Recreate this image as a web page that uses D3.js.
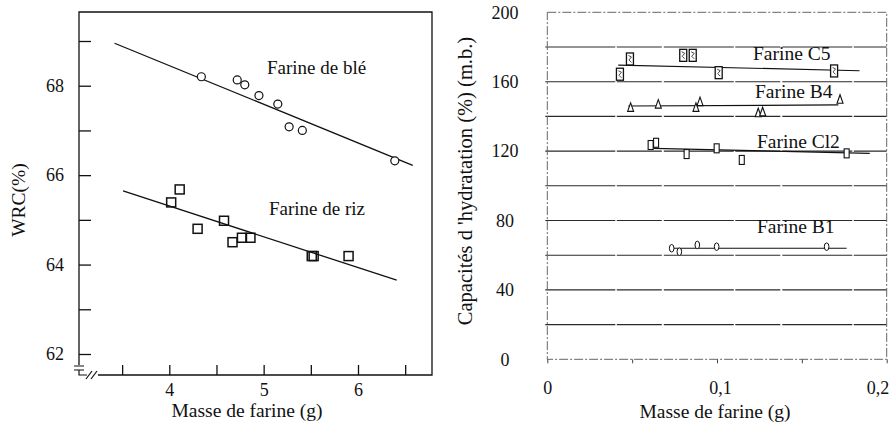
<!DOCTYPE html>
<html>
<head>
<meta charset="utf-8">
<script src="https://cdn.jsdelivr.net/npm/d3@7"></script>
<style>
  body { margin: 0; background: #fff; }
  svg text { font-family: "Liberation Serif", "DejaVu Serif", serif !important; fill: #111; }
</style>
</head>
<body>
<div id="chart"></div>
<script>
// ---- left panel data: WRC vs masse de farine
const wheatMass = [4.34, 4.72, 4.80, 4.95, 5.15, 5.27, 5.41, 6.39];
const wheatWRC  = [68.20, 68.13, 68.02, 67.78, 67.59, 67.08, 67.00, 66.32];
const wheatFit  = [[3.42, 68.95], [6.58, 66.22]];

const riceMass = [4.11, 4.02, 4.58, 4.30, 4.67, 4.77, 4.86, 5.51, 5.53, 5.90];
const riceWRC  = [65.68, 65.39, 64.98, 64.80, 64.50, 64.60, 64.60, 64.19, 64.19, 64.19];
const riceFit  = [[3.51, 65.65], [6.41, 63.65]];

const leftYTicks = [62, 63, 64, 65, 66, 67, 68, 69];
const leftXTicks = [3.5, 4, 4.5, 5, 5.5, 6, 6.5];

// ---- right panel data: capacités d'hydratation
const c5Mass = [0.0487, 0.0801, 0.0857, 0.0428, 0.101, 0.169];
const c5Cap  = [173.1, 175.2, 175.2, 164.3, 165.2, 166.2];
const c5Fit  = [[0.0418, 169.6], [0.184, 166.3]];

const b4Mass = [0.0491, 0.0654, 0.0876, 0.0900, 0.1243, 0.1269, 0.1725];
const b4Cap  = [145.2, 147.1, 145.2, 148.5, 142.1, 142.7, 149.9];
const b4Fit  = [[0.0477, 146.0], [0.1715, 146.6]];

const cl2Mass = [0.0609, 0.0641, 0.0821, 0.0998, 0.1146, 0.1764];
const cl2Cap  = [123.5, 124.8, 118.3, 121.6, 114.9, 118.7];
const cl2Fit  = [[0.0625, 121.6], [0.190, 118.7]];

const b1Mass = [0.0733, 0.0778, 0.0884, 0.0998, 0.1646];
const b1Cap  = [64.0, 62.0, 65.9, 64.9, 64.9];
const b1Fit  = [[0.0723, 64.0], [0.1764, 64.0]];

const rightYTicks = [0, 20, 40, 60, 80, 100, 120, 140, 160, 180, 200];
const rightYLabels = [0, 40, 80, 120, 160, 200];
const rightXTicks = [0, 0.05, 0.1, 0.15, 0.2];
const rightXLabels = [0, 0.1, 0.2];

const W = 893, H = 434;
const FONT = '"Liberation Serif", "DejaVu Serif", serif';
const svg = d3.select("#chart").append("svg")
  .attr("width", W).attr("height", H)
  .attr("font-family", FONT);

const zip = (a, b) => a.map((v, i) => [v, b[i]]);

// ================= left panel =================
const L = {left: 79, right: 432, top: 12, bottom: 375};
const xL = d3.scaleLinear().domain([4, 6]).range([169.3, 358]);
const yL = d3.scaleLinear().domain([62, 69]).range([354, 41]);

const gl = svg.append("g");

// frame (top, right and left sides)
gl.append("path")
  .attr("d", `M${L.left},365 V${L.top} H${L.right} V${L.bottom} H98`)
  .attr("fill", "none").attr("stroke", "#111").attr("stroke-width", 1.3);
// axis break marks
gl.append("path")
  .attr("d", `M74,366 H84 M74,370 H84 M${L.left},370 V375 H87 M86,379 L92,371 M91,379 L97,371`)
  .attr("fill", "none").attr("stroke", "#111").attr("stroke-width", 1.2);

const yAxisL = d3.axisLeft(yL).tickValues(leftYTicks)
  .tickSizeInner(-12).tickSizeOuter(0).tickPadding(15)
  .tickFormat(d => d % 2 === 0 ? d : "");
gl.append("g").attr("transform", `translate(${L.left},0)`).call(yAxisL)
  .attr("font-family", FONT)
  .call(g => g.select(".domain").remove())
  .call(g => g.selectAll("line").attr("stroke", "#111").attr("stroke-width", 1.3))
  .call(g => g.selectAll("text").style("font-size", "18px").attr("fill", "#111"));

const xAxisL = d3.axisBottom(xL).tickValues(leftXTicks)
  .tickSizeInner(-10).tickSizeOuter(0).tickPadding(8)
  .tickFormat(d => Number.isInteger(d) ? d : "");
gl.append("g").attr("transform", `translate(0,${L.bottom})`).call(xAxisL)
  .attr("font-family", FONT)
  .call(g => g.select(".domain").remove())
  .call(g => g.selectAll("line").attr("stroke", "#111").attr("stroke-width", 1.3))
  .call(g => g.selectAll("text").style("font-size", "18px").attr("fill", "#111"));

const lineL = d3.line().x(d => xL(d[0])).y(d => yL(d[1]));
[wheatFit, riceFit].forEach(f => gl.append("path").attr("d", lineL(f))
  .attr("fill", "none").attr("stroke", "#111").attr("stroke-width", 1.3));

gl.selectAll("circle.wheat").data(zip(wheatMass, wheatWRC)).enter().append("circle")
  .attr("class", "wheat")
  .attr("cx", d => xL(d[0])).attr("cy", d => yL(d[1])).attr("r", 4)
  .attr("fill", "#fff").attr("stroke", "#111").attr("stroke-width", 1.2);

gl.selectAll("rect.rice").data(zip(riceMass, riceWRC)).enter().append("rect")
  .attr("class", "rice")
  .attr("x", d => xL(d[0]) - 4.5).attr("y", d => yL(d[1]) - 4.5)
  .attr("width", 9).attr("height", 9)
  .attr("fill", "none").attr("stroke", "#111").attr("stroke-width", 1.5);

gl.append("text").attr("x", 267).attr("y", 74).style("font-size", "19px").text("Farine de blé");
gl.append("text").attr("x", 269).attr("y", 215).style("font-size", "19px").text("Farine de riz");
gl.append("text").attr("x", 247).attr("y", 417).attr("text-anchor", "middle")
  .style("font-size", "19.5px").text("Masse de farine (g)");
gl.append("text").attr("transform", "translate(25,200) rotate(-90)")
  .attr("text-anchor", "middle").style("font-size", "19.5px").text("WRC(%)");

// ================= right panel =================
const R = {left: 547.3, right: 886.7, top: 12.3, bottom: 359.3};
const xR = d3.scaleLinear().domain([0, 0.2]).range([R.left, R.right]);
const yR = d3.scaleLinear().domain([0, 200]).range([R.bottom, R.top]);

const gr = svg.append("g");

// horizontal grid
gr.selectAll("line.grid").data(rightYTicks.filter(d => d > 0 && d < 200)).enter().append("line")
  .attr("class", "grid")
  .attr("x1", R.left - 2).attr("x2", R.right)
  .attr("y1", d => yR(d)).attr("y2", d => yR(d))
  .attr("stroke", "#2a2a2a").attr("stroke-width", 1.1)
  .attr("stroke-dasharray", "70,1.5,45,2");

// dashed frame
gr.append("rect")
  .attr("x", R.left).attr("y", R.top)
  .attr("width", R.right - R.left).attr("height", R.bottom - R.top)
  .attr("fill", "none").attr("stroke", "#666").attr("stroke-width", 1)
  .attr("stroke-dasharray", "9,2,2,2");

const xAxisR = d3.axisBottom(xR).tickValues(rightXTicks)
  .tickSizeInner(4).tickSizeOuter(0).tickPadding(18)
  .tickFormat(d => rightXLabels.includes(d) ? String(d).replace(".", ",") : "");
gr.append("g").attr("transform", `translate(0,${R.bottom})`).call(xAxisR)
  .attr("font-family", FONT)
  .call(g => g.select(".domain").remove())
  .call(g => g.selectAll("line").attr("stroke", "#444"))
  .call(g => g.selectAll("text").style("font-size", "18px").attr("fill", "#111"))
  .call(g => g.selectAll(".tick").filter(d => d === 0.2).select("text")
    .attr("text-anchor", "end").attr("dx", 2))
  .call(g => g.selectAll(".tick").filter(d => d === 0.1).select("text")
    .attr("dx", 3));

const yAxisR = d3.axisLeft(yR).tickValues(rightYLabels)
  .tickSize(0).tickPadding(R.left - 505);
gr.append("g").attr("transform", `translate(${R.left},0)`).call(yAxisR)
  .attr("font-family", FONT)
  .call(g => g.select(".domain").remove())
  .call(g => g.selectAll("text").attr("text-anchor", "middle")
    .style("font-size", "18px").attr("fill", "#111"));

const lineR = d3.line().x(d => xR(d[0])).y(d => yR(d[1]));
[c5Fit, b4Fit, cl2Fit, b1Fit].forEach(f => gr.append("path").attr("d", lineR(f))
  .attr("fill", "none").attr("stroke", "#111").attr("stroke-width", 1.2));

// C5: tall boxes with a scribble inside
const c5 = gr.selectAll("g.c5").data(zip(c5Mass, c5Cap)).enter().append("g")
  .attr("class", "c5")
  .attr("transform", d => `translate(${xR(d[0])},${yR(d[1])})`);
c5.append("rect").attr("x", -3.5).attr("y", -6).attr("width", 7).attr("height", 12)
  .attr("fill", "#fff").attr("stroke", "#111").attr("stroke-width", 1.3);
c5.append("path").attr("d", "M-1.5,-3.5 L1.5,-2 L-1,1 L1.5,3.5")
  .attr("fill", "none").attr("stroke", "#333").attr("stroke-width", 0.9);

// B4: triangles
gr.selectAll("path.b4").data(zip(b4Mass, b4Cap)).enter().append("path")
  .attr("class", "b4")
  .attr("transform", d => `translate(${xR(d[0])},${yR(d[1])})`)
  .attr("d", "M0,-4.5 L3,4 L-3,4 Z")
  .attr("fill", "#fff").attr("stroke", "#111").attr("stroke-width", 1.1);

// Cl2: narrow boxes
gr.selectAll("rect.cl2").data(zip(cl2Mass, cl2Cap)).enter().append("rect")
  .attr("class", "cl2")
  .attr("x", d => xR(d[0]) - 2.5).attr("y", d => yR(d[1]) - 4.5)
  .attr("width", 5).attr("height", 9)
  .attr("fill", "#fff").attr("stroke", "#111").attr("stroke-width", 1.1);

// B1: small ovals
gr.selectAll("ellipse.b1").data(zip(b1Mass, b1Cap)).enter().append("ellipse")
  .attr("class", "b1")
  .attr("cx", d => xR(d[0])).attr("cy", d => yR(d[1]))
  .attr("rx", 2.3).attr("ry", 3.8)
  .attr("fill", "#fff").attr("stroke", "#111").attr("stroke-width", 1);

const seriesLabels = [
  {text: "Farine C5", x: 753, y: 60},
  {text: "Farine B4", x: 755, y: 98},
  {text: "Farine Cl2", x: 757, y: 148},
  {text: "Farine B1", x: 757, y: 233}
];
gr.selectAll("text.series").data(seriesLabels).enter().append("text")
  .attr("class", "series")
  .attr("x", d => d.x).attr("y", d => d.y)
  .style("font-size", "19.5px").text(d => d.text);

gr.append("text").attr("x", 715).attr("y", 418).attr("text-anchor", "middle")
  .style("font-size", "19.5px").text("Masse de farine (g)");
gr.append("text").attr("transform", "translate(472,181) rotate(-90)")
  .attr("text-anchor", "middle").style("font-size", "20.5px")
  .text("Capacités d 'hydratation (%) (m.b.)");
</script>
</body>
</html>
